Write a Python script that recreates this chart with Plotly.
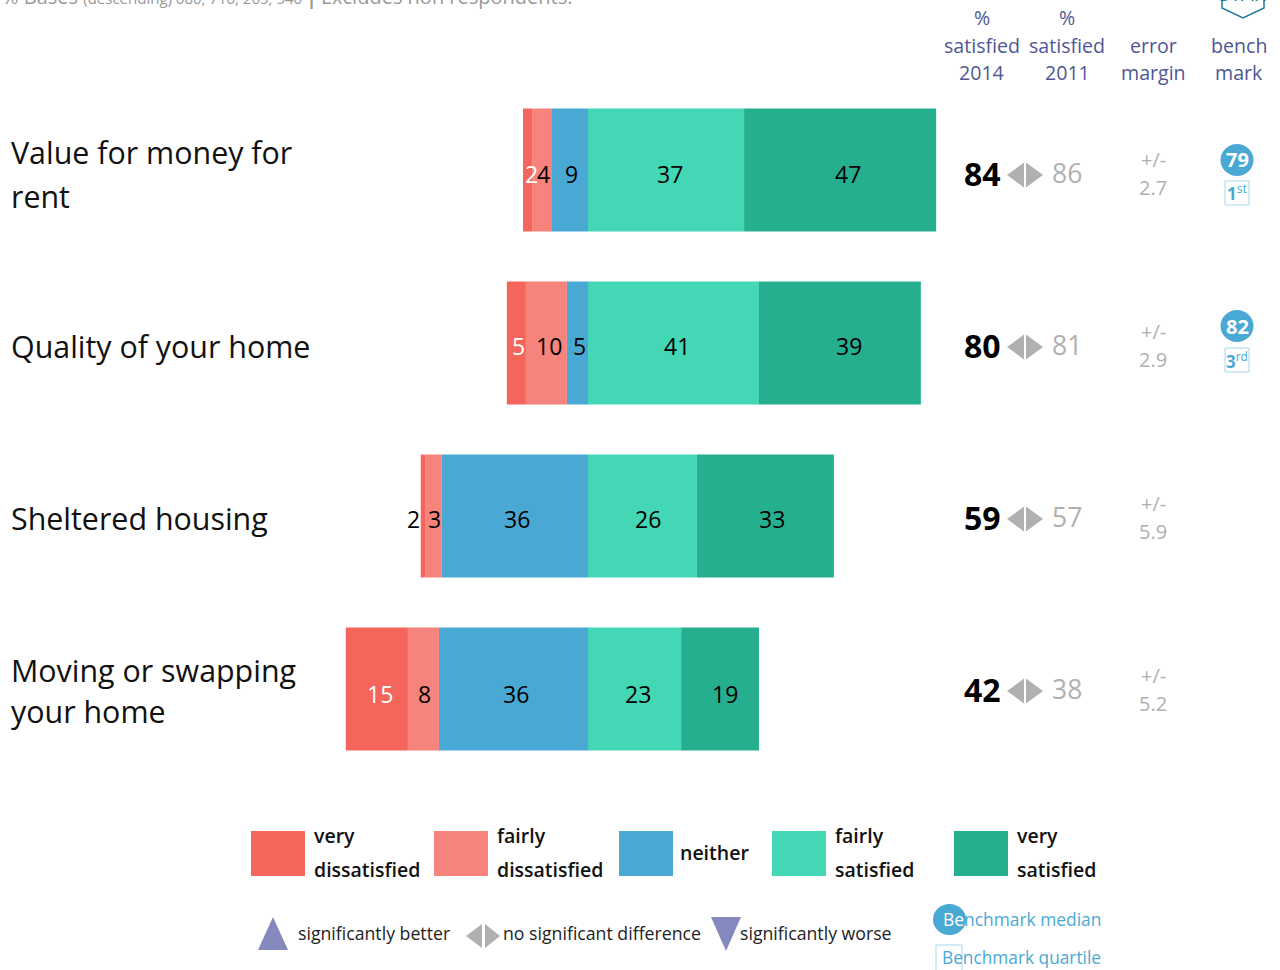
import plotly.graph_objects as go

W, H = 1280, 970
FONT = "Open Sans"

# ---- data ----
categories = ["Value for money for<br>rent", "Quality of your home", "Sheltered housing", "Moving or swapping<br>your home"]
very_dissatisfied = [2.2, 4.6, 1.2, 15.0]
fairly_dissatisfied = [4.6, 9.9, 3.9, 7.5]
neither = [8.9, 5.1, 35.3, 36.0]
fairly_satisfied = [37.7, 41.3, 26.3, 22.5]
very_satisfied = [46.4, 39.1, 33.1, 18.8]
lab_vd = [2, 5, 2, 15]
lab_fd = [4, 10, 3, 8]
lab_n = [9, 5, 36, 36]
lab_fs = [37, 41, 26, 23]
lab_vs = [47, 39, 33, 19]
satisfied_2014 = [84, 80, 59, 42]
satisfied_2011 = [86, 81, 57, 38]
error_margin = [2.7, 2.9, 5.9, 5.2]
bench_median = [79, 82]
bench_quartile = [("1", "st"), ("3", "rd")]
col_headers = ["%<br>satisfied<br>2014", "%<br>satisfied<br>2011", "error<br>margin", "bench<br>mark"]
legend_labels = ["very<br>dissatisfied", "fairly<br>dissatisfied", "neither", "fairly<br>satisfied", "very<br>satisfied"]

C_VD, C_FD, C_N, C_FS, C_VS = "#F4665C", "#F6847C", "#4AA9D4", "#43D7B5", "#26AF8F"
GREY, NAVY, BLUE, MARK = "#B0B0B0", "#4F5796", "#4AA9D4", "#8589BD"
BLACK = "#000000"

ZERO_PX, PX_PER_UNIT = 588, 4.14
ROW0_PX, ROW_STEP = 170, 173
# layout nudges (pixels)
ROW_DY = [5, 4, 3, 2]
BAR_LABEL_DY = [3.5, 2.5, 2.5, 4.5]
LABEL_DX = {
    "vd": [3.5, 2.5, -9.5, 3],
    "fd": [1.5, 2.5, 1, 1.5],
    "n": [1.5, 2.5, 2, 2.5],
    "fs": [4, 3.5, 5.5, 3.5],
    "vs": [8, 9, 6.5, 5],
}
LABEL_LINE_DY = [(-18, 26), (3,), (2,), (-19, 22)]


def px(x):
    return x / W


def py(y):
    return 1 - y / H


fig = go.Figure()
# the negative stack grows away from zero, so the middle category comes first
series = [
    ("neither", neither, C_N, -1),
    ("fairly dissatisfied", fairly_dissatisfied, C_FD, -1),
    ("very dissatisfied", very_dissatisfied, C_VD, -1),
    ("fairly satisfied", fairly_satisfied, C_FS, 1),
    ("very satisfied", very_satisfied, C_VS, 1),
]
for name, vals, col, sign in series:
    fig.add_trace(go.Bar(
        name=name, y=categories, x=[sign * v for v in vals], orientation="h",
        marker=dict(color=col, line=dict(width=0)), width=0.71, showlegend=False,
    ))

ann = []


def text(x, y, s, size, color, anchor="center", weight=None):
    f = dict(family=FONT, size=size, color=color)
    if weight:
        f["weight"] = weight
    ann.append(dict(x=px(x), y=py(y), xref="paper", yref="paper", text=s, showarrow=False,
                    xanchor=anchor, yanchor="middle", align="left" if anchor == "left" else "center", font=f))


def col_text(x, i, dy, s, size, color):
    ann.append(dict(x=px(x), y=i, xref="paper", yref="y", yshift=-dy, text=s, showarrow=False,
                    xanchor="center", yanchor="middle", font=dict(family=FONT, size=size, color=color)))


# bar value labels
for i in range(4):
    neg = 0
    stack = [("n", neither, lab_n, BLACK), ("fd", fairly_dissatisfied, lab_fd, BLACK), ("vd", very_dissatisfied, lab_vd, "white")]
    for key, vals, labs, colr in stack:
        center = -(neg + vals[i] / 2)
        neg += vals[i]
        c = BLACK if (key == "vd" and i == 2) else colr
        ann.append(dict(x=center, y=i, xref="x", yref="y", xshift=LABEL_DX[key][i], yshift=-BAR_LABEL_DY[i], text=str(labs[i]),
                        showarrow=False, xanchor="center", yanchor="middle", font=dict(family=FONT, size=23, color=c)))
    pos = 0
    for key, vals, labs in [("fs", fairly_satisfied, lab_fs), ("vs", very_satisfied, lab_vs)]:
        center = pos + vals[i] / 2
        pos += vals[i]
        ann.append(dict(x=center, y=i, xref="x", yref="y", xshift=LABEL_DX[key][i], yshift=-BAR_LABEL_DY[i], text=str(labs[i]),
                        showarrow=False, xanchor="center", yanchor="middle", font=dict(family=FONT, size=23, color=BLACK)))

# left row labels
for i, c in enumerate(categories):
    for line, dy in zip(c.split("<br>"), LABEL_LINE_DY[i]):
        ann.append(dict(x=px(8.5), y=i, xref="paper", yref="y", yshift=-dy, text=line, showarrow=False,
                        xanchor="left", yanchor="middle", font=dict(family=FONT, size=30.4, color="#111111")))

# columns
shapes = []
for i in range(4):
    yc = ROW0_PX + i * ROW_STEP
    d = ROW_DY[i]
    col_text(982, i, d - 2, f"<b>{satisfied_2014[i]}</b>", 32, BLACK)
    col_text(1067, i, d - 2, str(satisfied_2011[i]), 26.5, GREY)
    col_text(1153, i, d - 15.5, "+/-", 20, GREY)
    col_text(1153, i, d + 12, str(error_margin[i]), 20, GREY)
    ym = yc + d
    shapes.append(dict(type="path", xref="paper", yref="paper", fillcolor=GREY, line_width=0,
                       path=f"M{px(1024)},{py(ym-12.5)} L{px(1024)},{py(ym+12.5)} L{px(1007)},{py(ym)} Z"))
    shapes.append(dict(type="path", xref="paper", yref="paper", fillcolor=GREY, line_width=0,
                       path=f"M{px(1026)},{py(ym-12.5)} L{px(1026)},{py(ym+12.5)} L{px(1043)},{py(ym)} Z"))

# benchmark
bench_y = [(160, 193), (326, 360)]
for m, q, (y1, y2) in zip(bench_median, bench_quartile, bench_y):
    shapes.append(dict(type="circle", xref="paper", yref="paper", x0=px(1220.5), x1=px(1253.5), y0=py(y1 + 16), y1=py(y1 - 16),
                       fillcolor=BLUE, line_width=0))
    text(1237, y1, f"<b>{m}</b>", 20, "white")
    shapes.append(dict(type="rect", xref="paper", yref="paper", x0=px(1225), x1=px(1249), y0=py(y2 + 12), y1=py(y2 - 12),
                       fillcolor="rgba(0,0,0,0)", line=dict(color="#A8D7EC", width=1)))
    text(1237, y2, f"<b>{q[0]}</b><sup>{q[1]}</sup>", 17, BLUE)

# headers (one text per line, counted from the bottom row)
for x, h in zip([981.5, 1067, 1153, 1239], col_headers):
    lines = h.split("<br>")
    for k, line in enumerate(reversed(lines)):
        text(x, 73 - 28 * k, line, 19.6, NAVY)

# STAR badge
shapes.append(dict(type="path", xref="paper", yref="paper", fillcolor="rgba(0,0,0,0)", line=dict(color="#1F7A9C", width=1.5),
                   path=f"M{px(1222)},{py(-10)} L{px(1222)},{py(8)} L{px(1243)},{py(18)} L{px(1264)},{py(8)} L{px(1264)},{py(-10)}"))
text(1243, -6.5, "STAR", 20, "#1F7A9C")

# top note
text(0, -4, "% Bases <span style='font-size:15px'>(descending) 680, 710, 265, 540 </span><b>|</b><span style='font-size:15px'> </span>Excludes non respondents.", 20, "#999999", "left")

# legend
legend_x = [251, 434, 619, 772, 954]
legend_cols = [C_VD, C_FD, C_N, C_FS, C_VS]
for x, lab, col in zip(legend_x, legend_labels, legend_cols):
    shapes.append(dict(type="rect", xref="paper", yref="paper", x0=px(x), x1=px(x + 54), y0=py(876), y1=py(831), fillcolor=col, line_width=0))
    parts = lab.split("<br>")
    if len(parts) == 2:
        text(x + 61, 835, parts[0], 19.5, "#111111", "left", 600)
        text(x + 61, 869, parts[1], 19.5, "#111111", "left", 600)
    else:
        text(x + 59, 852, parts[0], 19.5, "#111111", "left", 600)

# significance key
shapes.append(dict(type="path", xref="paper", yref="paper", fillcolor=MARK, line_width=0,
                   path=f"M{px(258)},{py(950)} L{px(288)},{py(950)} L{px(273)},{py(917)} Z"))
shapes.append(dict(type="path", xref="paper", yref="paper", fillcolor=GREY, line_width=0,
                   path=f"M{px(482)},{py(924)} L{px(482)},{py(948)} L{px(466)},{py(936)} Z"))
shapes.append(dict(type="path", xref="paper", yref="paper", fillcolor=GREY, line_width=0,
                   path=f"M{px(485)},{py(924)} L{px(485)},{py(948)} L{px(500)},{py(936)} Z"))
shapes.append(dict(type="path", xref="paper", yref="paper", fillcolor=MARK, line_width=0,
                   path=f"M{px(711)},{py(917)} L{px(741)},{py(917)} L{px(726)},{py(951)} Z"))
text(296, 933, "significantly better", 17.7, "#222222", "left")
text(501, 933, "no significant difference", 17.7, "#222222", "left")
text(738, 933, "significantly worse", 17.7, "#222222", "left")

# benchmark key
shapes.append(dict(type="circle", xref="paper", yref="paper", x0=px(933), x1=px(966), y0=py(935), y1=py(904), fillcolor=BLUE, line_width=0))
shapes.append(dict(type="rect", xref="paper", yref="paper", x0=px(936), x1=px(962), y0=py(975), y1=py(945),
                   fillcolor="rgba(0,0,0,0)", line=dict(color="#A8D7EC", width=1)))
text(941, 919, "<span style='color:white'>Be</span>nchmark median", 17.4, BLUE, "left")
text(940, 957, "Benchmark quartile", 17.3, BLUE, "left")

fig.update_layout(
    width=W, height=H, autosize=False, margin=dict(l=0, r=0, t=0, b=0),
    barmode="relative", paper_bgcolor="white", plot_bgcolor="white", showlegend=False,
    xaxis=dict(range=[-ZERO_PX / PX_PER_UNIT, (W - ZERO_PX) / PX_PER_UNIT], visible=False, fixedrange=True),
    yaxis=dict(type="category", categoryorder="array", categoryarray=categories, visible=False, fixedrange=True,
               range=[(H - ROW0_PX) / ROW_STEP, -ROW0_PX / ROW_STEP]),
    annotations=ann, shapes=shapes, font=dict(family=FONT),
)
fig.write_html("out.html", config=dict(displayModeBar=False),
               post_script="document.body.style.margin='0';document.body.style.overflow='hidden';")
